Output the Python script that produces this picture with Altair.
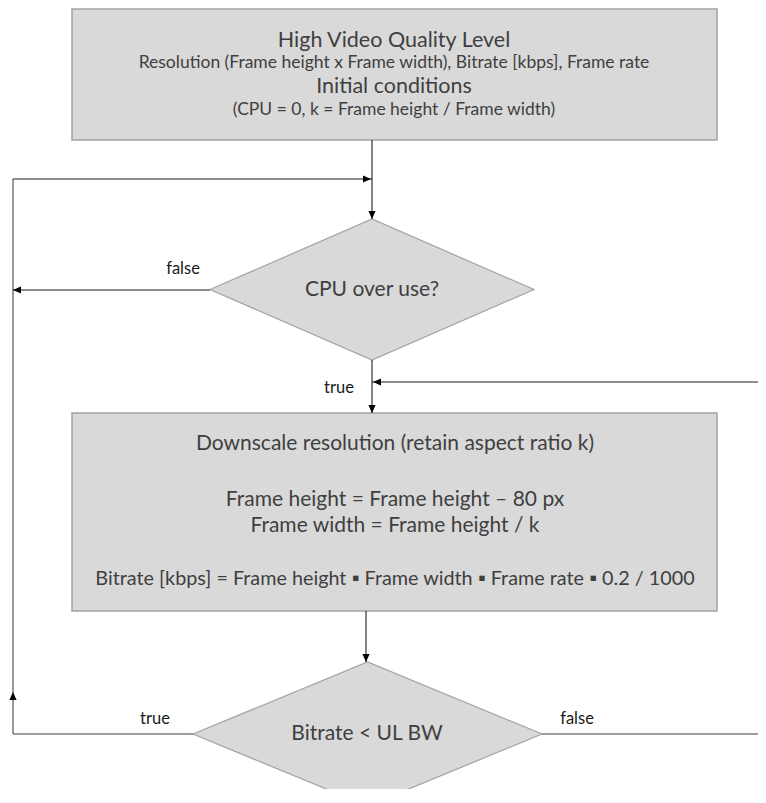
import altair as alt
import pandas as pd

# ---------------- flowchart data (page pixel coordinates) ----------------
# process boxes
box_left = [72, 72]
box_right = [717, 717]
box_top = [9, 413]
box_bottom = [140, 611]

# decision diamonds (vertices)
dia_id = ["cpu", "bitrate"]
dia_left = [210, 193]
dia_right = [534, 542]
dia_top = [219, 662]
dia_bottom = [360, 806]

# connectors
edge_x1 = [372, 13, 13, 210, 372, 780, 366, 13, 542]
edge_y1 = [140, 179, 179, 290, 360, 382, 611, 734, 734]
edge_x2 = [372, 372, 13, 13, 372, 372, 366, 193, 780]
edge_y2 = [219, 179, 734, 290, 413, 382, 662, 734, 734]
edge_kind = ["dark", "dark", "grey", "dark", "dark", "dark", "dark", "grey", "grey"]

# arrow heads (tip position, direction)
arrow_x = [372, 371, 13, 372, 373, 366, 13]
arrow_y = [219, 179, 290, 413, 382, 662, 692]
arrow_dir = ["down", "right", "left", "down", "left", "down", "up"]

# texts
text_label = [
    "High Video Quality Level",
    "Resolution (Frame height x Frame width), Bitrate [kbps], Frame rate",
    "Initial conditions",
    "(CPU = 0, k = Frame height / Frame width)",
    "CPU over use?",
    "Downscale resolution (retain aspect ratio k)",
    "Frame height = Frame height \u2013 80 px",
    "Frame width = Frame height / k",
    "Bitrate [kbps] = Frame height \u25aa Frame width \u25aa Frame rate \u25aa 0.2 / 1000",
    "Bitrate < UL BW",
    "false",
    "true",
    "true",
    "false",
]
text_x = [394, 394, 394, 394, 372, 395, 395, 395, 395, 367, 183, 339, 155, 577]
text_y = [41, 63, 87, 110, 290, 444, 500, 526, 579, 734, 269, 388, 719, 719]
text_kind = ["head", "sub", "head", "sub", "body", "body", "body", "body",
             "formula", "body", "label", "label", "label", "label"]

# ---------------- tables ----------------
boxes = pd.DataFrame({"x1": box_left, "x2": box_right, "y1": box_top, "y2": box_bottom})

dia_rows = []
for i, d in enumerate(dia_id):
    cx = (dia_left[i] + dia_right[i]) / 2
    cy = (dia_top[i] + dia_bottom[i]) / 2
    dia_rows += [
        {"id": d, "x": dia_left[i], "ya": cy, "yb": cy},
        {"id": d, "x": cx, "ya": dia_top[i], "yb": dia_bottom[i]},
        {"id": d, "x": dia_right[i], "ya": cy, "yb": cy},
    ]
diamonds = pd.DataFrame(dia_rows)

edges = pd.DataFrame({"x1": edge_x1, "y1": edge_y1, "x2": edge_x2, "y2": edge_y2, "kind": edge_kind})

angle_of = {"down": 0, "left": 90, "up": 180, "right": 270}
arrows = pd.DataFrame({"x": arrow_x, "y": arrow_y,
                       "angle": [angle_of[d] for d in arrow_dir]})

texts = pd.DataFrame({"label": text_label, "x": text_x, "y": text_y, "kind": text_kind})

# ---------------- scales (1 data unit = 1 page pixel) ----------------
W, H = 750, 781
xs = alt.Scale(domain=[8, 8 + W], range=[0, W], nice=False, zero=False)
ys = alt.Scale(domain=[8, 8 + H], range=[0, H], nice=False, zero=False)

X = lambda f: alt.X(f, type="quantitative", scale=xs, axis=None)
Y = lambda f: alt.Y(f, type="quantitative", scale=ys, axis=None)

rects = alt.Chart(boxes).mark_rect(
    fill="#d9d9d9", stroke="#a3a3a3", strokeWidth=1.5
).encode(x=X("x1"), x2="x2", y=Y("y1"), y2="y2")

dias = alt.Chart(diamonds).mark_area(
    fill="#d9d9d9", stroke="#a3a3a3", strokeWidth=1.2, orient="vertical",
    interpolate="linear", opacity=1, clip=True
).encode(x=X("x"), y=Y("ya"), y2="yb", detail="id:N")

dark_edges = alt.Chart(edges).transform_filter(alt.datum.kind == "dark").mark_rule(
    color="#1e1e1e", strokeWidth=1.1, clip=True
).encode(x=X("x1"), y=Y("y1"), x2="x2", y2="y2")

grey_edges = alt.Chart(edges).transform_filter(alt.datum.kind == "grey").mark_rule(
    color="#7f7f7f", strokeWidth=1.6, clip=True
).encode(x=X("x1"), y=Y("y1"), x2="x2", y2="y2")

heads = alt.Chart(arrows).mark_point(
    shape="M0,0L-0.9,-2L0.9,-2Z", filled=True, fill="#000000", stroke=None,
    size=64, opacity=1
).encode(x=X("x"), y=Y("y"), angle=alt.Angle("angle:Q", scale=None))

FONT = "Lato"
def text_layer(kind, size, color):
    return alt.Chart(texts).transform_filter(alt.datum.kind == kind).mark_text(
        font=FONT, fontSize=size, color=color, align="center", baseline="middle"
    ).encode(x=X("x"), y=Y("y"), text="label:N")

layers = [
    rects, dias, grey_edges, dark_edges, heads,
    text_layer("head", 21.5, "#3f3f3f"),
    text_layer("sub", 17.5, "#3f3f3f"),
    text_layer("body", 21, "#3f3f3f"),
    text_layer("formula", 19.8, "#3f3f3f"),
    text_layer("label", 16.5, "#1a1a1a"),
]

chart = alt.layer(*layers).properties(
    width=W, height=H, autosize=alt.AutoSizeParams(type="none"), padding=0,
    background="white"
).configure_view(stroke=None)

chart.save("out.html", embed_options={"renderer": "svg", "actions": False})
